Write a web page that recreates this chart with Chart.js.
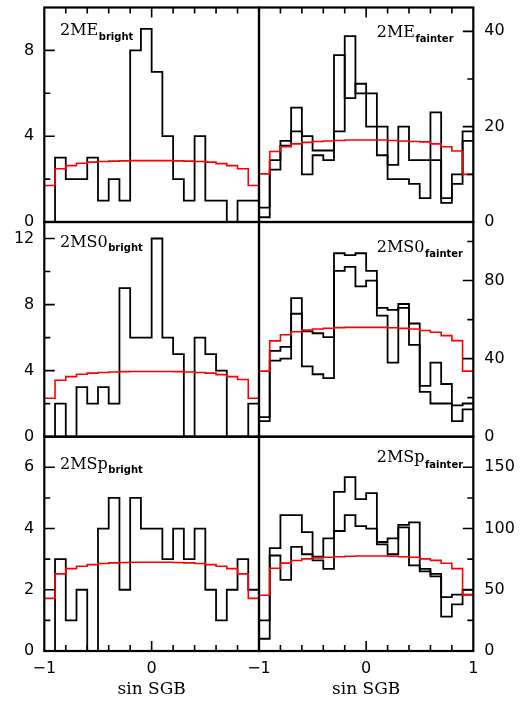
<!DOCTYPE html>
<html>
<head>
<meta charset="utf-8">
<script src="https://cdn.jsdelivr.net/npm/chart.js@4.4.1/dist/chart.umd.min.js"></script>
<style>
html,body{margin:0;padding:0;background:#fff;}
#wrap{position:relative;width:531px;height:702px;background:#fff;}
#wrap canvas{position:absolute;left:0;top:0;}
</style>
</head>
<body>
<div id="wrap">
<canvas id="p0" width="531" height="702"></canvas>
<canvas id="p1" width="531" height="702"></canvas>
<canvas id="p2" width="531" height="702"></canvas>
<canvas id="p3" width="531" height="702"></canvas>
<canvas id="p4" width="531" height="702"></canvas>
<canvas id="p5" width="531" height="702"></canvas>
</div>
<script>
// ---- data ----
const binEdges = [-1.0,-0.9,-0.8,-0.7,-0.6,-0.5,-0.4,-0.3,-0.2,-0.1,0.0,0.1,0.2,0.3,0.4,0.5,0.6,0.7,0.8,0.9,1.0];
const xLabelTicksLeft = [-1, 0];
const xLabelTicksRight = [-1, 0, 1];
const xMajorTicks = [0];
const xMinorTicks = [-0.8,-0.6,-0.4,-0.2,0.2,0.4,0.6,0.8];

// 2ME bright
const meBright = [0,3,2,2,3,1,2,1,8,9,7,4,2,1,4,1,1,0,1,1];
const meBrightModel = [1.70,2.48,2.63,2.74,2.79,2.82,2.84,2.85,2.86,2.86,2.86,2.86,2.85,2.84,2.82,2.79,2.72,2.63,2.48,1.70];
// 2ME fainter
const meFainterA = [3,13,17,24,10,14,13,35,26,29,20,20,12,20,13,13,23,4,8,19];
const meFainterB = [1,11,16,19,18,15,15,19,39,27,27,14,9,9,8,5,13,5,10,17];
const meFainterModel = [10.1,14.8,15.8,16.4,16.7,16.9,17.0,17.1,17.2,17.2,17.2,17.2,17.1,17.0,16.9,16.8,16.4,15.8,14.9,10.0];
// 2MS0 bright
const s0Bright = [0,2,0,3,2,3,2,9,6,6,12,6,5,0,6,5,4,0,0,2];
const s0BrightModel = [2.33,3.42,3.64,3.78,3.85,3.89,3.92,3.94,3.95,3.95,3.95,3.95,3.94,3.92,3.89,3.85,3.76,3.64,3.46,2.33];
// 2MS0 fainter
const s0FainterA = [10,44,46,71,36,32,30,94,93,94,85,66,65,66,47,23,17,17,8,14];
const s0FainterB = [8,39,40,63,54,53,51,85,87,77,80,62,38,68,58,26,38,27,16,17];
const s0FainterModel = [33.6,49.1,52.2,53.8,54.6,55.2,55.6,55.9,56.0,56.0,56.0,56.0,55.8,55.5,55.2,54.4,53.5,51.8,49.2,33.6];
// 2MSp bright
const spBright = [0,3,1,2,0,4,5,2,5,4,4,3,4,3,4,2,1,2,3,2];
const spBrightModel = [1.72,2.52,2.69,2.77,2.82,2.86,2.88,2.89,2.90,2.90,2.90,2.90,2.89,2.88,2.86,2.82,2.77,2.69,2.52,1.72];
// 2MSp fainter
const spFainterA = [10,84,111,111,97,77,92,130,142,124,129,89,92,103,105,67,63,28,38,46];
const spFainterB = [25,78,58,85,79,74,67,98,111,102,100,87,79,101,70,65,61,44,46,50];
const spFainterModel = [45.5,67.6,71.8,73.9,75.2,75.9,76.6,77.0,77.4,77.6,77.6,77.6,77.4,77.0,76.6,75.2,74.0,71.6,67.3,45.8];

// axis ranges and ticks
const yMaxList = [10, 45, 13, 110, 7, 175];
const yMajorList = [[0,4,8],[0,20,40],[0,4,8,12],[0,40,80],[0,2,4,6],[0,50,100,150]];
const yMinorList = [[2,6],[10,30],[2,6,10],[20,60,100],[1,3,5],[25,75,125]];
const panelNames = ['2ME','2ME','2MS0','2MS0','2MSp','2MSp'];
const panelSubs = ['bright','fainter','bright','fainter','bright','fainter'];
const xTitle = 'sin SGB';

// ---- layout (pixels) ----
const W = 531, H = 702;
const colX = [44.3, 259, 473.3];
const rowY = [7.5, 222, 436.7, 651];
const labelPos = [
  {dx:15.7, dy:27.5, sdy:4.5},
  {dx:117.7, dy:29.2, sdy:5.5},
  {dx:15.7, dy:24.5, sdy:4},
  {dx:117.7, dy:30.3, sdy:4.5},
  {dx:15.7, dy:32.6, sdy:3.5},
  {dx:117.7, dy:25.6, sdy:5.5}
];

function stepPoints(values){
  const pts = values.map((v,i)=>({x:binEdges[i], y:v}));
  pts.push({x:binEdges[values.length], y:values[values.length-1]});
  return pts;
}
function fmt(v){ return v < 0 ? '\u2212' + Math.abs(v) : String(v); }

const panelDecor = {
  id:'panelDecor',
  afterDatasetsDraw(chart, args, o){
    const {ctx, chartArea:a} = chart;
    const x = chart.scales.x, y = chart.scales.y;
    ctx.save();
    ctx.strokeStyle = '#000';
    ctx.lineWidth = 1.6;
    ctx.beginPath();
    const ys = o.isLeft ? a.left : a.right, yd = o.isLeft ? 1 : -1;
    o.yMajor.forEach(v=>{const p=y.getPixelForValue(v); ctx.moveTo(ys,p); ctx.lineTo(ys+yd*10.5,p);});
    o.yMinor.forEach(v=>{const p=y.getPixelForValue(v); ctx.moveTo(ys,p); ctx.lineTo(ys+yd*6,p);});
    if (o.row !== 1){
      const xs = o.row===0 ? a.top : a.bottom, xd = o.row===0 ? 1 : -1;
      xMajorTicks.forEach(v=>{const p=x.getPixelForValue(v); ctx.moveTo(p,xs); ctx.lineTo(p,xs+xd*10);});
      xMinorTicks.forEach(v=>{const p=x.getPixelForValue(v); ctx.moveTo(p,xs); ctx.lineTo(p,xs+xd*6);});
    }
    ctx.stroke();
    ctx.lineWidth = 2.2;
    ctx.strokeRect(a.left, a.top, a.right-a.left, a.bottom-a.top);
    ctx.fillStyle = '#000';
    ctx.textAlign = 'left';
    ctx.textBaseline = 'alphabetic';
    ctx.font = '16px "DejaVu Serif"';
    const lx = a.left + o.lp.dx, ly = a.top + o.lp.dy;
    ctx.fillText(o.name, lx, ly);
    const w = ctx.measureText(o.name).width;
    ctx.font = 'bold 10px "DejaVu Sans"';
    ctx.fillText(o.sub, lx + w + 0.5, ly + o.lp.sdy);
    ctx.restore();
  }
};

const obsSets = [[meBright],[meFainterA,meFainterB],[s0Bright],[s0FainterA,s0FainterB],[spBright],[spFainterA,spFainterB]];
const modelSets = [meBrightModel, meFainterModel, s0BrightModel, s0FainterModel, spBrightModel, spFainterModel];

function zeroPad(s){ s.paddingTop=0; s.paddingBottom=0; s.paddingLeft=0; s.paddingRight=0; }

for (let k=0;k<6;k++){
  const col = k%2, row = Math.floor(k/2);
  const isLeft = col===0, isBottom = row===2;
  const datasets = [{
    data: stepPoints(modelSets[k]), borderColor:'#ff0000', borderWidth:1.6,
    stepped:'before', pointRadius:0, fill:false
  }];
  obsSets[k].forEach(vals=>datasets.push({
    data: stepPoints(vals), borderColor:'#000', borderWidth:1.8,
    stepped:'before', pointRadius:0, fill:false
  }));
  new Chart(document.getElementById('p'+k), {
    type:'line',
    data:{datasets},
    plugins:[panelDecor],
    options:{
      responsive:false, animation:false, devicePixelRatio:1,
      layout:{padding:{
        left: isLeft ? 0 : colX[1],
        right: isLeft ? W-colX[1] : 0,
        top: rowY[row],
        bottom: isBottom ? 0 : H-rowY[row+1]
      }},
      plugins:{legend:{display:false}, tooltip:{enabled:false},
        panelDecor:{isLeft, row, yMajor:yMajorList[k], yMinor:yMinorList[k], name:panelNames[k], sub:panelSubs[k], lp:labelPos[k]}},
      scales:{
        x:{
          type:'linear', min:-1, max:1, display:isBottom,
          grid:{display:false, drawTicks:false}, border:{display:false},
          ticks:{display:isBottom, color:'#000', font:{family:'DejaVu Sans', size:16}, padding:8, maxRotation:0, autoSkip:false, callback:v=>fmt(v)},
          afterBuildTicks:s=>{ s.ticks = (isLeft?xLabelTicksLeft:xLabelTicksRight).map(v=>({value:v})); },
          title:{display:isBottom, text:xTitle, color:'#000', font:{family:'DejaVu Serif', size:17}, padding:{top:0,bottom:2}},
          afterFit:s=>{ s.height = isBottom ? H-rowY[3] : 0; zeroPad(s); }
        },
        y:{
          type:'linear', min:0, max:yMaxList[k], position: isLeft?'left':'right',
          grid:{display:false, drawTicks:false}, border:{display:false},
          ticks:{color:'#000', font:{family:'DejaVu Sans', size:16}, padding: isLeft?10:11, autoSkip:false, callback:v=>fmt(v)},
          afterBuildTicks:s=>{ s.ticks = yMajorList[k].map(v=>({value:v})); },
          afterFit:s=>{ s.width = isLeft ? colX[0] : W-colX[2]; zeroPad(s); }
        }
      }
    }
  });
}
</script>
</body>
</html>
